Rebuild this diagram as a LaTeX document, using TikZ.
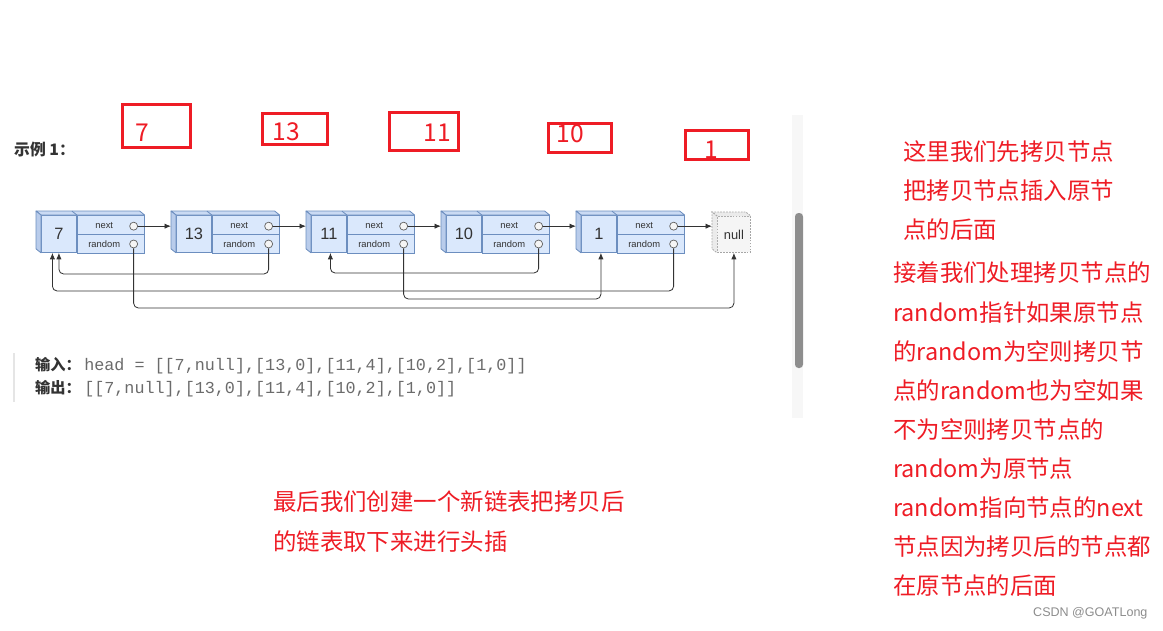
\documentclass[tikz,border=0pt]{standalone}
\usepackage{fontspec}
\usepackage{xcolor}
\usepackage{tikz}
\usetikzlibrary{positioning,arrows.meta,calc}
\setmainfont{Liberation Sans}
\newfontfamily\cjk{Noto Sans CJK SC}
\newfontfamily\codefont{Liberation Mono}
\definecolor{noteRed}{HTML}{EE1C25}
\definecolor{cellBlue}{HTML}{DAE8FC}
\definecolor{cellLine}{HTML}{6C8EBF}
\definecolor{topBlue}{HTML}{CADAF3}
\definecolor{sideBlue}{HTML}{B9CCEB}
\definecolor{codeGray}{HTML}{6B6B6B}
\definecolor{inkGray}{HTML}{333333}
\definecolor{thumbGray}{HTML}{8E8E8E}
\tikzset{
  val/.style={draw=cellLine,fill=cellBlue,line width=0.7pt,minimum width=1.05cm,minimum height=1.11cm,inner sep=0pt,text=inkGray,font=\fontsize{14}{14}\selectfont},
  row/.style={draw=cellLine,fill=cellBlue,line width=0.7pt,minimum width=2.01cm,minimum height=0.555cm,inner sep=0pt},
  face/.style={draw=cellLine,line width=0.7pt,line join=round},
  fieldtxt/.style={inner sep=0pt,text=inkGray,font=\fontsize{8}{8}\selectfont},
  dot/.style={circle,draw=gray!75!black,fill=black!4,line width=0.6pt,minimum size=0.24cm,inner sep=0pt},
  nullbox/.style={draw=gray!70,dash pattern=on 1.5pt off 1pt,fill=black!4,line width=0.7pt,minimum width=0.99cm,minimum height=1.08cm,inner sep=0pt,text=inkGray,font=\fontsize{11}{11}\selectfont},
  nextarr/.style={-{Latex[length=5.5pt,width=4.5pt]},draw=inkGray,line width=0.7pt},
  randarr/.style={-{Latex[length=5.5pt,width=4.5pt]},draw=inkGray,line width=0.7pt,rounded corners=4pt},
  redline/.style={draw=noteRed,line width=2.5pt},
  rednum/.style={inner sep=0pt,text=noteRed,font=\cjk\fontsize{21}{21}\selectfont},
  note/.style={inner sep=0pt,anchor=west,text=noteRed,font=\cjk\fontsize{20}{20}\selectfont}
}

\begin{document}
\begin{tikzpicture}[x=0.03cm,y=-0.03cm]
\useasboundingbox (0,0) rectangle (1163,630);

% scroll bar of the screenshot
\fill[black!3] (792,115) rectangle (803,418);
\fill[thumbGray,rounded corners=3pt] (795,213) rectangle (803,368);

\node[inner sep=0pt,anchor=west,text=inkGray,font=\cjk\bfseries\fontsize{13.5}{13.5}\selectfont] (ex) at (14,150) {示例 1：};

% red marks above the list
\foreach \xa/\ya/\xb/\yb/\tx/\ty/\num in {122.5/104.5/190.5/147.5/142/133/7, 262.5/113.5/327.5/144.5/286/132/13, 389.5/112.5/458.5/150.5/437/133/11, 548.5/123.5/611.5/152.5/570/134/10, 685.5/130.5/748.5/159.5/711/150/1}{
  \draw[redline] (\xa,\ya) rectangle (\xb,\yb);
  \node[rednum] (r\num) at (\tx,\ty) {\num};
}

% list nodes
\foreach \v [count=\i] in {7,13,11,10,1}{
  \node[val, anchor=north west] (v\i) at ({41+135*(\i-1)},215) {\v};
  \node[row, anchor=north west] (nx\i) at (v\i.north east) {};
  \node[row, below=0pt of nx\i] (rd\i) {};
  \filldraw[face,fill=topBlue] (v\i.north west) -- ++(-5,-4) -- ($(nx\i.north east)+(-5,-4)$) -- (nx\i.north east) -- cycle;
  \filldraw[face,fill=sideBlue] (v\i.north west) -- ++(-5,-4) -- ($(v\i.south west)+(-5,-4)$) -- (v\i.south west) -- cycle;
  \draw[face] (v\i.north east) -- ++(-5,-4);
  \node[fieldtxt] (tn\i) at ($(nx\i.center)+(-6.5,1)$) {next};
  \node[fieldtxt] (tr\i) at ($(rd\i.center)+(-6.5,0)$) {random};
  \node[dot] (cn\i) at ($(nx\i.east)+(-11,1.5)$) {};
  \node[dot] (cr\i) at ($(rd\i.east)+(-11,0)$) {};
}

\node[nullbox, anchor=north west] (nul) at (717,216) {null};
\filldraw[gray!70,dash pattern=on 1.5pt off 1pt,fill=black!8,line width=0.7pt] (nul.north west) -- ++(-5,-4) -- ($(nul.north east)+(-5,-4)$) -- (nul.north east);
\filldraw[gray!70,dash pattern=on 1.5pt off 1pt,fill=black!8,line width=0.7pt] (nul.north west) -- ++(-5,-4) -- ($(nul.south west)+(-5,-4)$) -- (nul.south west);

% next pointers
\foreach \i [evaluate=\i as \j using int(\i+1)] in {1,...,4}
  \draw[nextarr] (cn\i) -- ($(cn\i -| v\j.west)+(-5,0)$);
\draw[nextarr] (cn5) -- ($(cn5 -| nul.west)+(-5,0)$);

% random pointers
\draw[randarr] (cr1) -- ++(0,64) -| (nul.south);
\draw[randarr] (cr2) -- ++(0,30) -| (v1.south);
\draw[randarr] (cr3) -- ++(0,55) -| ($(v5.south)+(2,0)$);
\draw[randarr] (cr4) -- ++(0,29) -| ($(v3.south)+(1.5,0)$);
\draw[randarr] (cr5) -- ++(0,47) -| ($(v1.south)+(-6.5,0)$);

% example input and output
\draw[line width=1.6pt,black!10] (14,353) -- (14,402);
\node[inner sep=0pt,anchor=west,text=codeGray] (inp) at (35,366) {{\cjk\bfseries\color{inkGray}\fontsize{13}{13}\selectfont 输入：}\hspace{0.1cm}{\codefont\fontsize{14.3}{14.3}\selectfont head = [[7,null],[13,0],[11,4],[10,2],[1,0]]}};
\node[inner sep=0pt,anchor=west,text=codeGray] (outp) at (35,389) {{\cjk\bfseries\color{inkGray}\fontsize{13}{13}\selectfont 输出：}\hspace{0.1cm}{\codefont\fontsize{14.3}{14.3}\selectfont [[7,null],[13,0],[11,4],[10,2],[1,0]]}};

% notes
\foreach \t [count=\k] in {这里我们先拷贝节点,把拷贝节点插入原节,点的后面}
  \node[note] (a\k) at (903,{152+39*(\k-1)}) {\t};
\foreach \t [count=\k] in {接着我们处理拷贝节点的,random指针如果原节点,的random为空则拷贝节,点的random也为空如果,不为空则拷贝节点的,random为原节点,random指向节点的next,节点因为拷贝后的节点都,在原节点的后面}
  \node[note] (b\k) at (893,{273+39.1*(\k-1)}) {\t};
\foreach \t [count=\k] in {最后我们创建一个新链表把拷贝后,的链表取下来进行头插}
  \node[note] (c\k) at (273,{502+40*(\k-1)}) {\t};

\node[inner sep=0pt,anchor=west,text=black!45,font=\fontsize{10.7}{10.7}\selectfont] (csdn) at (1033,613) {CSDN @GOATLong};
\end{tikzpicture}
\end{document}
